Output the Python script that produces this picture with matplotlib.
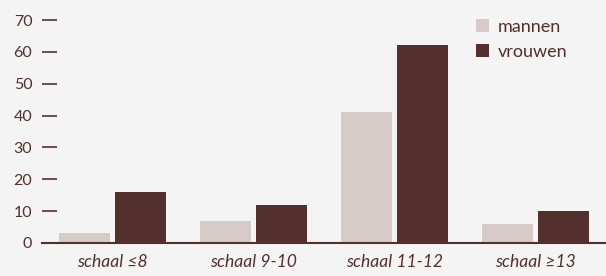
import matplotlib
matplotlib.use("Agg")
import matplotlib.pyplot as plt
import numpy as np

categories = ["schaal ≤8", "schaal 9-10", "schaal 11-12", "schaal ≥13"]
mannen = [3, 7, 41, 6]
vrouwen = [16, 12, 62, 10]
yticks = [0, 10, 20, 30, 40, 50, 60, 70]

bg = "#f4f4f4"
c_light = "#d6cbc8"
c_dark = "#53302e"
txt = "#53302e"

plt.rcParams['font.family'] = ['Lato', 'DejaVu Sans']

fig = plt.figure(figsize=(6.06, 2.76), dpi=100, facecolor=bg)
ax = fig.add_axes([42/606, 33/276, 564/606, 223/276], facecolor=bg)

x = np.arange(len(categories))
w = 0.362
off = 0.199
ax.bar(x - off, mannen, w, color=c_light, label="mannen", zorder=2)
ax.bar(x + off, vrouwen, w, color=c_dark, label="vrouwen", zorder=2)

ax.set_xlim(-0.5, 3.5)
ax.set_ylim(0, 70)
ax.set_yticks(yticks)
ax.set_yticklabels([str(v) for v in yticks], fontsize=11.5, color=txt)
ax.tick_params(axis='y', direction='in', length=10.5, width=1.2, color=txt, pad=7)
ax.set_xticks(x)
ax.set_xticklabels(categories, fontsize=12.6, color=txt, style='italic')
ax.tick_params(axis='x', length=0, pad=8)

for s in ['top', 'right', 'left']:
    ax.spines[s].set_visible(False)
ax.spines['bottom'].set_color(txt)
ax.spines['bottom'].set_linewidth(1.5)
ax.spines['bottom'].set_zorder(3)

leg = ax.legend(loc='upper left', bbox_to_anchor=(0.77, 1.005), frameon=False,
                fontsize=13, handlelength=0.72, handleheight=0.72,
                handletextpad=0.45, labelspacing=0.5, borderaxespad=0, borderpad=0)
for t in leg.get_texts():
    t.set_color(txt)

fig.savefig("out.png", dpi=100, facecolor=bg)
